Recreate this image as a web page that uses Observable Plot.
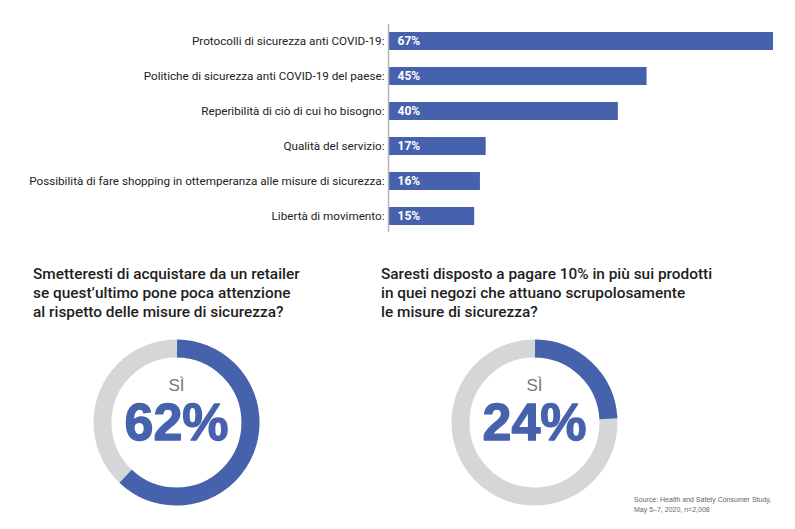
<!DOCTYPE html>
<html><head><meta charset="utf-8">
<script src="https://cdn.jsdelivr.net/npm/d3@7"></script>
<script src="https://cdn.jsdelivr.net/npm/@observablehq/plot@0.6"></script>
<style>
body{margin:0;background:#fff;}
#root{position:relative;width:795px;height:529px;overflow:hidden;background:#fff;}
.abs{position:absolute;}
.q{font-family:Roboto,sans-serif;font-weight:500;font-size:15.4px;line-height:19px;color:#1e1e1e;white-space:nowrap;}
.src{font-family:"Liberation Sans",Arial,sans-serif;font-size:7px;line-height:10px;color:#666;white-space:nowrap;}
</style></head><body><div id="root"></div>
<script>
// ---- data ----
const categories = [
  "Protocolli di sicurezza anti COVID-19:",
  "Politiche di sicurezza anti COVID-19 del paese:",
  "Reperibilità di ciò di cui ho bisogno:",
  "Qualità del servizio:",
  "Possibilità di fare shopping in ottemperanza alle misure di sicurezza:",
  "Libertà di movimento:"
];
const values = [67, 45, 40, 17, 16, 15];
const question1 = ["Smetteresti di acquistare da un retailer", "se quest’ultimo pone poca attenzione", "al rispetto delle misure di sicurezza?"];
const question2 = ["Saresti disposto a pagare 10% in più sui prodotti", "in quei negozi che attuano scrupolosamente", "le misure di sicurezza?"];
const yesLabel = "SÌ";
const yesValues = [62, 24];
const sourceLines = ["Source: Health and Safety Consumer Study,", "May 5–7, 2020, n=2,008"];

// ---- styles ----
const blue = "#4762ad";
const grey = "#d5d6d8";
const root = document.getElementById("root");

const rows = categories.map((c, i) => ({category: c, value: values[i]}));

const bars = Plot.plot({
  width: 795, height: 250,
  marginLeft: 388, marginRight: 22, marginTop: 24, marginBottom: 18,
  style: {fontFamily: "Roboto, sans-serif", fontSize: "11.7px", color: "#222", background: "transparent"},
  x: {domain: [0, 67], axis: null},
  y: {domain: categories, paddingInner: 0.486, paddingOuter: 0.186, axis: null},
  marks: [
    Plot.barX(rows, {y: "category", x: "value", fill: blue}),
    Plot.ruleX([0], {stroke: "#b5b5b5", strokeWidth: 1.5}),
    Plot.axisY({tickSize: 0, tickPadding: 4, fontSize: 11.7, label: null}),
    Plot.text(rows, {y: "category", x: 0, text: d => `${d.value}%`, textAnchor: "start", dx: 9, fill: "white", fontWeight: "bold", fontSize: 12})
  ]
});
const bdiv = document.createElement("div");
bdiv.className = "abs"; bdiv.style.left = "0px"; bdiv.style.top = "0px";
bdiv.appendChild(bars);
root.appendChild(bdiv);

function donut(v) {
  const r = 74;
  const C = 2 * Math.PI * r;
  const L = v / 100 * C;
  return Plot.plot({
    width: 200, height: 200, margin: 0,
    style: {background: "transparent"},
    marks: [
      Plot.dot([v], {frameAnchor: "middle", r, stroke: grey, strokeWidth: 18, fill: "none"}),
      Plot.dot([v], {frameAnchor: "middle", r, stroke: blue, strokeWidth: 18, fill: "none",
        strokeDasharray: `${L} ${C - L}`, strokeDashoffset: C / 4}),
      Plot.text([yesLabel], {frameAnchor: "middle", text: d => d, dy: -37, fontSize: 17,
        fill: "#7a7a7a", fontFamily: "Liberation Sans, Arial, sans-serif"}),
      Plot.text([v], {frameAnchor: "middle", text: d => `${d}%`, dy: 1, fontSize: 52,
        fontWeight: "bold", fill: blue, stroke: blue, strokeWidth: 1.3,
        fontFamily: "Liberation Sans, Arial, sans-serif"})
    ]
  });
}
const centers = [[176, 422], [534, 422]];
yesValues.forEach((v, i) => {
  const d = document.createElement("div");
  d.className = "abs";
  d.style.left = (centers[i][0] - 100) + "px";
  d.style.top = (centers[i][1] - 100) + "px";
  d.appendChild(donut(v));
  root.appendChild(d);
});

function addText(lines, left, top, cls) {
  const d = document.createElement("div");
  d.className = "abs " + cls;
  d.style.left = left + "px"; d.style.top = top + "px";
  d.innerHTML = lines.map(s => s.replace(/&/g, "&amp;")).join("<br>");
  root.appendChild(d);
}
addText(question1, 33, 265, "q");
addText(question2, 381, 265, "q");
addText(sourceLines, 634, 495, "src");
</script>
</body></html>
